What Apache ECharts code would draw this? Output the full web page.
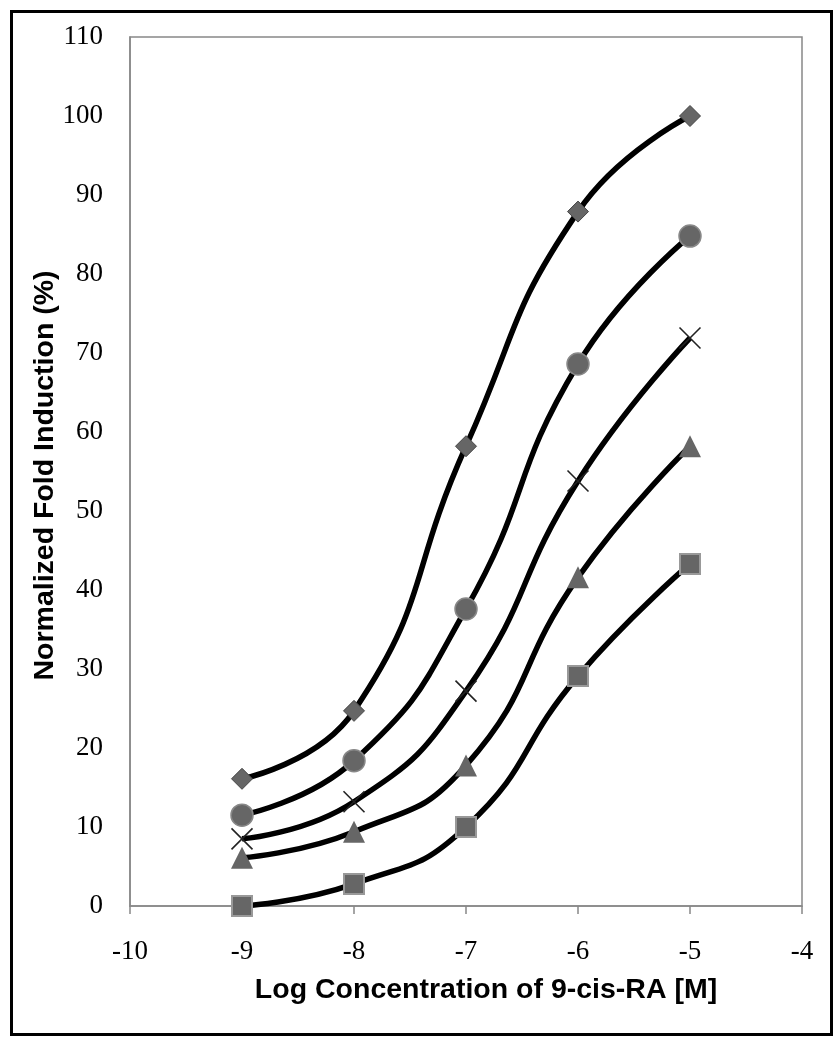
<!DOCTYPE html>
<html>
<head>
<meta charset="utf-8">
<script src="https://cdn.jsdelivr.net/npm/echarts@6/dist/echarts.min.js"></script>
<style>
html,body{margin:0;padding:0;background:#fff;}
#chart{width:840px;height:1050px;}
</style>
</head>
<body>
<div id="chart"></div>
<script>
// Data
const logConc = [-9, -8, -7, -6, -5];
const diamondSeries = [16.1, 24.7, 58.2, 87.9, 100];
const circleSeries = [11.5, 18.4, 37.6, 68.6, 84.8];
const crossSeries = [8.5, 13.2, 27.2, 53.8, 71.9];
const triangleSeries = [6.1, 9.4, 17.8, 41.6, 58.2];
const squareSeries = [0, 2.8, 10.0, 29.1, 43.3];
const xTitle = 'Log Concentration of 9-cis-RA [M]';
const yTitle = 'Normalized Fold Induction (%)';

function pairs(vals){ return logConc.map((x,i)=>[x, vals[i]]); }

const chart = echarts.init(document.getElementById('chart'), null, {renderer:'canvas'});

function mk(name, vals, symbol, size, itemStyle){
  return {
    name: name, type:'line', data: pairs(vals), smooth: 0.5,
    symbol: symbol, symbolSize: size, showSymbol:true,
    lineStyle:{color:'#000', width:5.5},
    itemStyle: itemStyle,
    emphasis:{disabled:true}, z: 2
  };
}

chart.setOption({
  animation:false,
  backgroundColor:'#fff',
  grid:{left:130, top:37, right:38, bottom:144, show:true, borderColor:'#888', borderWidth:1.5},
  xAxis:{
    type:'value', min:-10, max:-4, interval:1,
    axisLine:{show:true, onZero:false, lineStyle:{color:'#888', width:1.5}},
    axisTick:{show:true, inside:false, length:8, lineStyle:{color:'#888', width:1.5}},
    splitLine:{show:false},
    axisLabel:{fontFamily:'Liberation Serif', fontSize:27, color:'#000', margin:32},
    name: xTitle, nameLocation:'middle', nameGap:70, nameMoveOverlap:false,
    nameTextStyle:{fontFamily:'Liberation Sans', fontWeight:'bold', fontSize:28.5, color:'#000', padding:[0,0,0,40]}
  },
  yAxis:{
    type:'value', min:0, max:110, interval:10,
    axisLine:{show:true, lineStyle:{color:'#888', width:1.5}},
    axisTick:{show:false},
    splitLine:{show:false},
    axisLabel:{fontFamily:'Liberation Serif', fontSize:27, color:'#000', margin:27},
    name: yTitle, nameLocation:'middle', nameGap:70, nameMoveOverlap:false,
    nameTextStyle:{fontFamily:'Liberation Sans', fontWeight:'bold', fontSize:28.5, color:'#000', padding:[0,8,0,0]}
  },
  graphic:[{
    type:'rect', shape:{x:11.5, y:11.5, width:820, height:1023},
    style:{fill:'none', stroke:'#000', lineWidth:3}, z:100
  }],
  series:[
    mk('Series 1', diamondSeries, 'diamond', 21, {color:'#666', borderColor:'#444', borderWidth:1}),
    mk('Series 2', circleSeries, 'circle', 22, {color:'#666', borderColor:'#888', borderWidth:1.5}),
    mk('Series 3', crossSeries, 'path://M0,0L20,20M20,0L0,20', 21, {color:'rgba(0,0,0,0)', borderColor:'#222', borderWidth:1.6}),
    mk('Series 4', triangleSeries, 'triangle', 22, {color:'#666', borderColor:'#666', borderWidth:0}),
    mk('Series 5', squareSeries, 'rect', 20, {color:'#666', borderColor:'#999', borderWidth:2})
  ]
});
</script>
</body>
</html>
